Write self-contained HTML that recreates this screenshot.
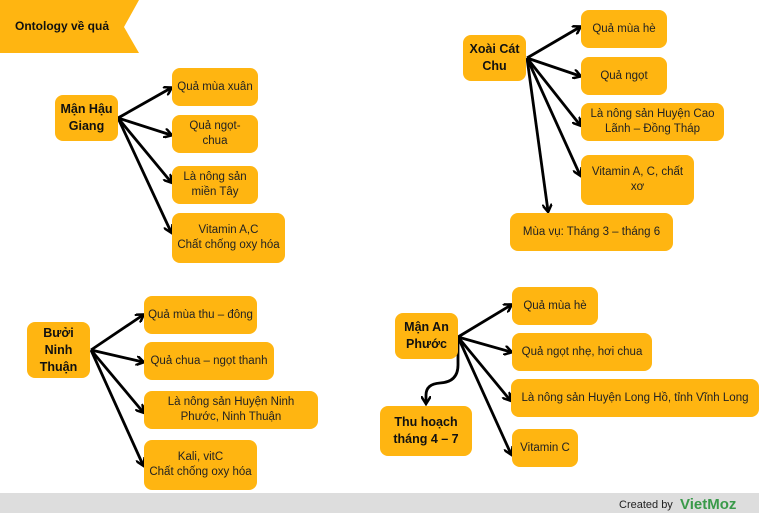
<!DOCTYPE html>
<html><head><meta charset="utf-8"><style>
body{margin:0;width:759px;height:513px;background:#fff;position:relative;overflow:hidden;font-family:"Liberation Sans","DejaVu Sans",sans-serif;}
.b{position:absolute;background:#FFB511;border-radius:8px;display:flex;align-items:center;justify-content:center;text-align:center;font-size:11.5px;line-height:15px;color:#222;box-sizing:border-box;white-space:nowrap;}
.h{font-weight:bold;font-size:12.5px;line-height:17px;color:#111;}
svg{position:absolute;left:0;top:0;}
</style></head><body>
<svg width="759" height="513">
<defs><marker id="a" markerWidth="10" markerHeight="10" refX="7" refY="5" orient="auto" markerUnits="userSpaceOnUse"><path d="M0,0 L8,5 L0,10" fill="none" stroke="#000" stroke-width="2.5"/></marker></defs>
<polygon points="0,0 139,0 124,27 139,53 0,53" fill="#FFB511"/>
<g stroke="#000" stroke-width="2.8" fill="none" marker-end="url(#a)">
<path d="M118,118 L171,88"/><path d="M118,118 L171,135"/><path d="M118,118 L171,182"/><path d="M118,118 L171,232"/>
<path d="M527,58 L580,27"/><path d="M527,58 L580,76"/><path d="M527,58 L580,125"/><path d="M527,58 L580,175"/><path d="M527,58 L548,211"/>
<path d="M91,350 L143,315"/><path d="M91,350 L143,362"/><path d="M91,350 L143,412"/><path d="M91,350 L143,465"/>
<path d="M458,337 L511,305"/><path d="M458,337 L511,352"/><path d="M458,337 L510,400"/><path d="M458,337 L511,454"/>
<path d="M458,337 L458,365 Q458,382 440,383 Q426,384 426,395 L426,403"/>
</g>
<rect x="0" y="493" width="759" height="20" fill="#dddddd"/>
<text x="619" y="508" font-size="11" fill="#222" font-family="Liberation Sans,sans-serif">Created by</text>
<text x="680" y="509" font-size="15" font-weight="bold" fill="#3a9a4a" font-family="Liberation Sans,sans-serif">VietMoz</text>
</svg>
<div style="position:absolute;left:15px;top:19px;font-weight:bold;font-size:12px;color:#111">Ontology về quả</div>

<div class="b h" style="left:55px;top:95px;width:63px;height:46px">Mận Hậu<br>Giang</div>
<div class="b" style="left:172px;top:68px;width:86px;height:38px">Quả mùa xuân</div>
<div class="b" style="left:172px;top:115px;width:86px;height:38px">Quả ngọt-<br>chua</div>
<div class="b" style="left:172px;top:166px;width:86px;height:38px">Là nông sản<br>miền Tây</div>
<div class="b" style="left:172px;top:213px;width:113px;height:50px">Vitamin A,C<br>Chất chống oxy hóa</div>

<div class="b h" style="left:463px;top:35px;width:63px;height:46px">Xoài Cát<br>Chu</div>
<div class="b" style="left:581px;top:10px;width:86px;height:38px">Quả mùa hè</div>
<div class="b" style="left:581px;top:57px;width:86px;height:38px">Quả ngọt</div>
<div class="b" style="left:581px;top:103px;width:143px;height:38px">Là nông sản Huyện Cao<br>Lãnh – Đồng Tháp</div>
<div class="b" style="left:581px;top:155px;width:113px;height:50px">Vitamin A, C, chất<br>xơ</div>
<div class="b" style="left:510px;top:213px;width:163px;height:38px">Mùa vụ: Tháng 3 – tháng 6</div>

<div class="b h" style="left:27px;top:322px;width:63px;height:56px">Bưởi<br>Ninh<br>Thuận</div>
<div class="b" style="left:144px;top:296px;width:113px;height:38px">Quả mùa thu – đông</div>
<div class="b" style="left:144px;top:342px;width:130px;height:38px">Quả chua – ngọt thanh</div>
<div class="b" style="left:144px;top:391px;width:174px;height:38px">Là nông sản Huyện Ninh<br>Phước, Ninh Thuận</div>
<div class="b" style="left:144px;top:440px;width:113px;height:50px">Kali, vitC<br>Chất chống oxy hóa</div>

<div class="b h" style="left:395px;top:313px;width:63px;height:46px">Mận An<br>Phước</div>
<div class="b" style="left:512px;top:287px;width:86px;height:38px">Quả mùa hè</div>
<div class="b" style="left:512px;top:333px;width:140px;height:38px">Quả ngọt nhẹ, hơi chua</div>
<div class="b" style="left:511px;top:379px;width:248px;height:38px">Là nông sản Huyện Long Hồ, tỉnh Vĩnh Long</div>
<div class="b" style="left:512px;top:429px;width:66px;height:38px">Vitamin C</div>
<div class="b h" style="left:380px;top:406px;width:92px;height:50px">Thu hoạch<br>tháng 4 – 7</div>
</body></html>
